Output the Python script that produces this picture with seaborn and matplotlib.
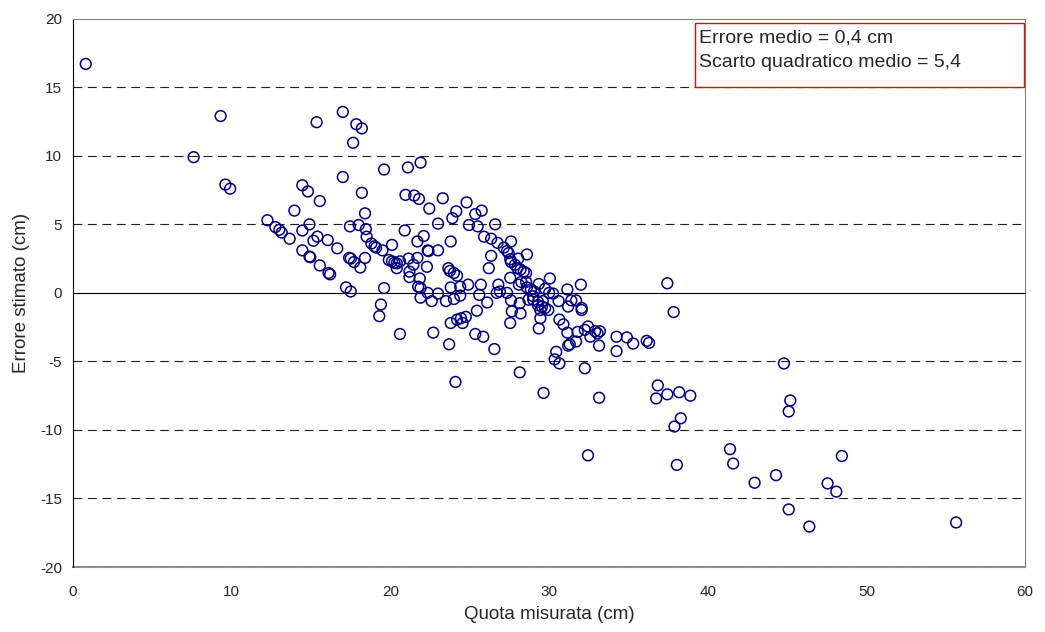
import matplotlib
matplotlib.use("Agg")
import matplotlib.pyplot as plt
from matplotlib.patches import Rectangle
import seaborn as sns
import pandas as pd

# ── data ──────────────────────────────────────────────────────────────────────
quota = [
    0.8, 9.3, 7.6, 9.6, 9.9, 12.25, 12.75, 13.0, 13.15, 13.65,
    13.95, 14.45, 14.8, 14.45, 14.9, 14.45, 14.9, 14.95, 15.15, 15.4,
    15.35, 15.55, 15.55, 16.05, 16.65, 16.1, 16.2, 17.0, 17.85, 18.2,
    17.65, 17.0, 18.2, 18.4, 17.45, 18.0, 18.45, 18.5, 17.4, 17.5,
    17.7, 18.1, 18.4, 18.8, 19.0, 19.1, 19.5, 17.2, 17.5, 19.6,
    20.1, 20.9, 22.1, 21.7, 22.35, 20.95, 21.5, 21.8, 22.45, 21.1,
    21.9, 19.9, 20.1, 20.25, 20.4, 20.6, 21.15, 21.7, 21.45, 20.4,
    21.2, 21.2, 21.85, 21.75, 21.9, 19.6, 19.4, 19.3, 20.6, 21.9,
    22.6, 22.3, 22.4, 22.7, 23.0, 23.5, 24.0, 24.4, 24.9, 23.8,
    24.4, 23.65, 23.75, 24.0, 24.2, 23.0, 23.8, 23.3, 24.8, 24.15,
    23.9, 25.35, 25.75, 24.95, 25.5, 23.0, 25.9, 23.7, 24.1, 23.8,
    24.2, 24.45, 24.75, 24.55, 25.35, 25.85, 25.45, 25.6, 25.7, 22.35,
    26.1, 26.35, 26.75, 27.6, 27.15, 27.35, 27.45, 28.6, 26.35, 28.05,
    27.6, 27.55, 26.6, 26.2, 27.85, 28.0, 28.2, 28.4, 28.55, 27.55,
    30.05, 28.1, 28.25, 28.55, 28.6, 28.85, 29.05, 29.35, 29.75, 30.0,
    30.25, 26.8, 26.9, 27.35, 26.7, 27.6, 28.15, 27.65, 28.2, 27.55,
    28.7, 29.0, 29.3, 29.6, 29.3, 29.55, 29.75, 29.95, 29.45, 29.35,
    26.55, 28.15, 29.65, 29.0, 29.45, 30.6, 30.65, 30.9, 31.15, 32.0,
    31.4, 31.7, 31.2, 32.05, 32.05, 31.15, 31.8, 31.2, 31.3, 31.7,
    32.25, 32.45, 32.6, 32.9, 33.05, 33.2, 33.15, 30.45, 30.35, 30.65,
    32.25, 33.15, 32.45, 34.25, 34.25, 34.9, 35.3, 36.15, 36.3, 37.45,
    37.85, 36.85, 36.75, 37.45, 38.2, 38.9, 38.3, 37.9, 38.05, 41.4,
    41.6, 42.95, 44.3, 44.8, 45.2, 45.1, 48.45, 47.55, 48.1, 45.1,
    46.4, 55.65,
]
errore = [
    16.7, 12.9, 9.9, 7.9, 7.6, 5.3, 4.8, 4.6, 4.4, 3.95,
    6.0, 7.85, 7.4, 4.55, 5.0, 3.1, 2.65, 2.6, 3.8, 4.1,
    12.45, 6.7, 2.0, 3.85, 3.25, 1.45, 1.35, 13.2, 12.3, 12.0,
    10.95, 8.45, 7.3, 5.8, 4.85, 4.95, 4.65, 4.1, 2.55, 2.5,
    2.25, 1.85, 2.55, 3.6, 3.4, 3.3, 3.1, 0.4, 0.1, 9.0,
    3.5, 4.55, 4.15, 3.75, 3.1, 7.15, 7.1, 6.85, 6.15, 9.15,
    9.5, 2.4, 2.3, 2.2, 2.15, 2.3, 2.5, 2.55, 2.05, 1.8,
    1.55, 1.15, 1.05, 0.45, 0.35, 0.35, -0.85, -1.7, -3.0, -0.35,
    -0.6, 1.9, 3.05, -2.9, -0.05, -0.6, -0.45, -0.2, 0.6, 0.4,
    0.45, 1.8, 1.6, 1.45, 1.25, 3.1, 3.75, 6.9, 6.6, 5.95,
    5.45, 5.75, 6.0, 4.95, 4.85, 5.05, 4.1, -3.75, -6.5, -2.2,
    -1.95, -1.85, -1.75, -2.2, -3.0, -3.2, -1.3, -0.15, 0.6, 0.0,
    -0.7, 3.95, 3.65, 3.75, 3.3, 3.05, 2.9, 2.8, 2.7, 2.5,
    2.25, 2.45, 5.0, 1.8, 2.05, 1.8, 1.7, 1.55, 1.45, 1.1,
    1.05, 0.6, 0.8, 0.8, 0.4, 0.25, 0.1, 0.65, 0.3, 0.0,
    -0.05, 0.6, 0.1, 0.0, 0.0, -0.55, -0.75, -1.35, -1.5, -2.2,
    -0.5, -0.25, -0.65, -0.6, -0.9, -1.0, -1.1, -1.25, -1.85, -2.6,
    -4.1, -5.8, -7.3, -0.5, -1.25, -0.6, -1.95, -2.3, 0.25, 0.6,
    -0.55, -0.55, -1.0, -1.1, -1.25, -2.9, -2.85, -3.85, -3.75, -3.55,
    -2.7, -2.45, -3.2, -2.8, -2.95, -2.8, -3.85, -4.3, -4.85, -5.15,
    -5.5, -7.65, -11.85, -3.2, -4.25, -3.25, -3.7, -3.5, -3.65, 0.7,
    -1.4, -6.75, -7.7, -7.4, -7.25, -7.5, -9.15, -9.75, -12.55, -11.4,
    -12.45, -13.85, -13.3, -5.15, -7.85, -8.65, -11.9, -13.9, -14.5, -15.8,
    -17.05, -16.75,
]
x_ticks = [0, 10, 20, 30, 40, 50, 60]
y_ticks = [-20, -15, -10, -5, 0, 5, 10, 15, 20]
grid_levels = [-20, -15, -10, -5, 5, 10, 15]
stats_lines = ["Errore medio = 0,4 cm", "Scarto quadratico medio = 5,4"]

df = pd.DataFrame({"quota": quota, "errore": errore})

sns.set_style("white")
plt.rcParams["font.family"] = ["Liberation Sans", "DejaVu Sans"]
plt.rcParams["axes.unicode_minus"] = False

fig = plt.figure(figsize=(10.45, 6.32), dpi=100)
ax = fig.add_axes([0.0699, 0.1028, 0.9111, 0.8676])

# dashed horizontal gridlines
for lvl in grid_levels:
    ax.axhline(lvl, color="#202020", lw=0.8, ls=(0, (8, 5)), zorder=1)

sns.scatterplot(data=df, x="quota", y="errore", ax=ax, marker="o", s=60,
                facecolor="none", edgecolor="#000080", linewidth=1.1, zorder=3)

ax.set_xlim(0, 60)
ax.set_ylim(-20, 20)
ax.set_yticks(y_ticks)
ax.set_xticks(x_ticks)

# x axis line through zero, labels at the bottom
ax.spines["bottom"].set_position(("data", 0))
ax.spines["bottom"].set_color("black")
ax.spines["left"].set_color("black")
for s in ("top", "right"):
    ax.spines[s].set_color("#808080")
ax.tick_params(axis="x", direction="out", length=4, width=0.8, color="#606060",
               labelbottom=False)
ax.tick_params(axis="y", direction="out", length=5, width=0.8, color="black",
               labelsize=11, pad=3)
ax.set_xlabel("")
ax.set_ylabel("Errore stimato (cm)", fontsize=13.5, labelpad=7)

sec = ax.secondary_xaxis("bottom")
sec.set_xticks(x_ticks)
sec.tick_params(length=0, pad=13, labelsize=11)
sec.spines["bottom"].set_color("#909090")
sec.spines["bottom"].set_linewidth(1.5)
sec.set_xlabel("Quota misurata (cm)", fontsize=13.5, labelpad=5)

# statistics box
ax.add_patch(Rectangle((0.653, 0.876), 0.346, 0.116, transform=ax.transAxes,
                       facecolor="white", edgecolor="#ff0000", lw=1, zorder=5))
ax.text(0.657, 0.964, stats_lines[0], transform=ax.transAxes, fontsize=14,
        va="center", ha="left", zorder=6)
ax.text(0.657, 0.920, stats_lines[1], transform=ax.transAxes, fontsize=14,
        va="center", ha="left", zorder=6)

fig.savefig("out.png", dpi=100)
plt.close(fig)
